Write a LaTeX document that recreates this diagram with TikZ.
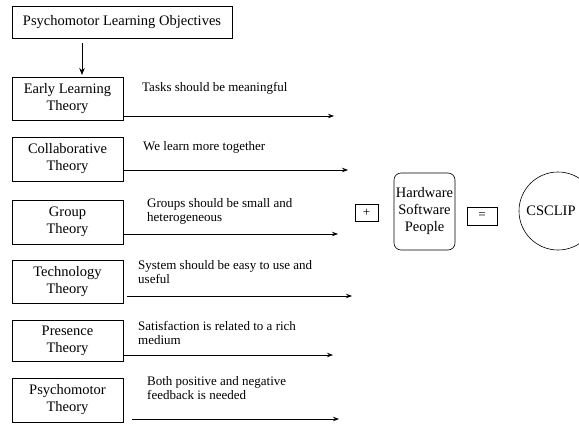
\documentclass[tikz,border=0pt]{standalone}
\usepackage{fontspec}
\setmainfont{Liberation Serif}
\usetikzlibrary{arrows.meta}

\tikzset{
  theory/.style={draw, line width=0.6pt, minimum width=111pt, inner sep=0pt,
    align=center, font=\fontsize{14.5}{17}\selectfont},
  note/.style={anchor=north west, inner sep=0pt, align=left,
    font=\fontsize{13}{14.5}\selectfont},
  flow/.style={line width=0.8pt, -{Stealth[length=6pt,width=4.5pt]}},
  opbox/.style={draw, line width=0.6pt, inner sep=0pt, font=\fontsize{13}{14}\selectfont},
}

\begin{document}
\begin{tikzpicture}[x=1pt, y=-1pt]
  \useasboundingbox (0,0) rectangle (579,426);

  % heading and the theory boxes
  \node[theory, minimum width=220pt, minimum height=32pt] (obj) at (122,22) {Psychomotor Learning Objectives};
  \node[theory, minimum height=43pt] (early)  at (67.5,98.5) {Early Learning\\Theory};
  \node[theory, minimum height=44pt] (collab) at (67.5,159)  {Collaborative\\Theory};
  \node[theory, minimum height=44pt] (group)  at (67.5,222)  {Group\\Theory};
  \node[theory, minimum height=43pt] (tech)   at (67.5,281.5){Technology\\Theory};
  \node[theory, minimum height=41pt] (pres)   at (67.5,340.5){Presence\\Theory};
  \node[theory, minimum height=44pt] (psych)  at (67.5,400)  {Psychomotor\\Theory};

  \coordinate (a0) at (82,75);
  \draw[line width=0.8pt, -{Stealth[length=7pt,width=5.5pt]}] (obj.south -| a0) ++(0,5) -- (a0);

  % arrow ends
  \coordinate (e1) at (334,116);
  \coordinate (e2) at (348,170);
  \coordinate (e3) at (338,234);
  \coordinate (e4) at (352,296);
  \coordinate (e5) at (333,355);
  \coordinate (e6) at (339,419);
  \coordinate (s4) at (127,296);
  \coordinate (s6) at (132,419);

  \draw[flow] (early.east |- e1) -- (e1);
  \draw[flow] (collab.east |- e2) -- (e2);
  \draw[flow] (group.east |- e3) -- (e3);
  \draw[flow] (s4) -- (e4);
  \draw[flow] (pres.east |- e5) -- (e5);
  \draw[flow] (s6) -- (e6);

  % statements over the arrows
  \node[note] (n1) at (142,82)  {Tasks should be meaningful};
  \node[note] (n2) at (143,141) {We learn more together};
  \node[note] (n3) at (147,198) {Groups should be small and\\heterogeneous};
  \node[note] (n4) at (138,260) {System should be easy to use and\\useful};
  \node[note] (n5) at (138,321) {Satisfaction is related to a rich\\medium};
  \node[note] (n6) at (147,376) {Both positive and negative\\feedback is needed};

  % the sum on the right
  \node[opbox, minimum width=23pt, minimum height=17pt] (plus) at (366.5,212.5) {+};
  \node[draw, line width=0.6pt, rounded corners=7pt, inner sep=0pt, minimum width=61pt,
        minimum height=77pt, align=center, font=\fontsize{14.5}{17}\selectfont]
        (hsp) at (424.5,211.5) {Hardware\\Software\\People};
  \node[opbox, minimum width=30pt, minimum height=18pt] (eq) at (482,216) {=};
  \node[draw, line width=0.6pt, circle, minimum size=78pt, inner sep=0pt] (csclip) at (558,211) {};
  \node[inner sep=0pt, font=\fontsize{14.5}{17}\selectfont] (csclipname) at (551,211) {CSCLIP};
\end{tikzpicture}
\end{document}
